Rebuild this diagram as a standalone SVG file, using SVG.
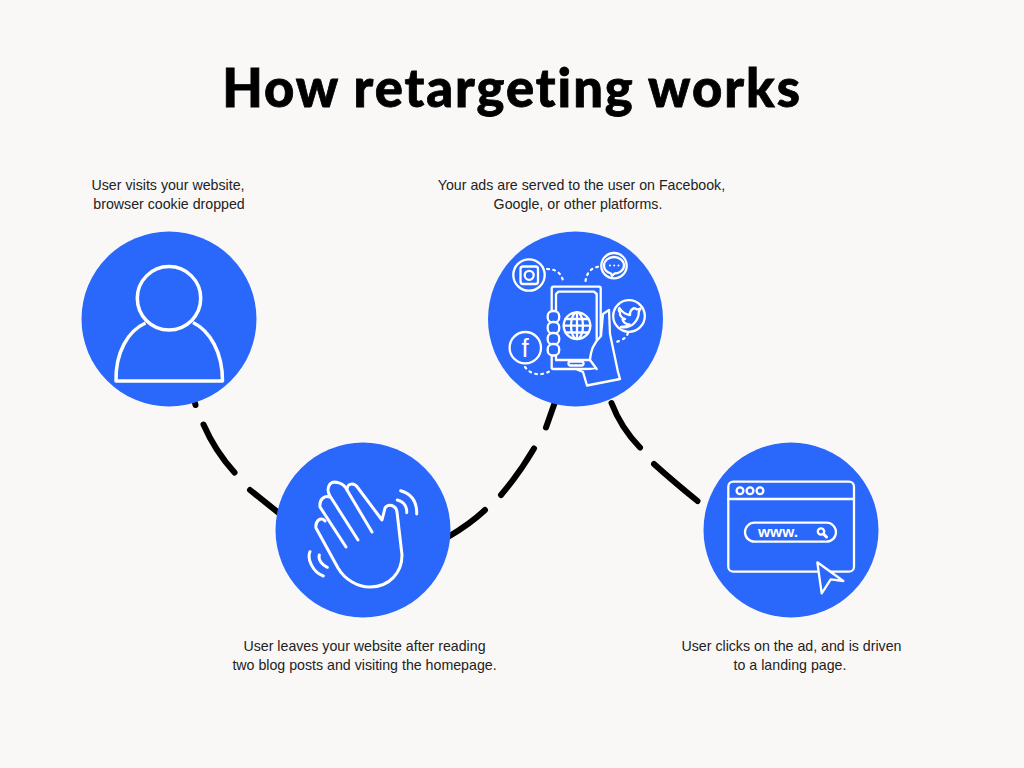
<svg xmlns="http://www.w3.org/2000/svg" width="1024" height="768" viewBox="0 0 1024 768">
<style>
.bg{fill:#faf8f7}
.disc{fill:#2a68fb}
.i{fill:none;stroke:#fff;stroke-width:3;stroke-linecap:round;stroke-linejoin:round}
.t{fill:none;stroke:#fff;stroke-width:2.300;stroke-linecap:round;stroke-linejoin:round}
.d{fill:none;stroke:#fff;stroke-width:2.200;stroke-linecap:round;stroke-dasharray:1.800 4.400}
.c{fill:none;stroke:#000;stroke-width:6;stroke-linecap:round}
.cap{font-family:"Liberation Sans",Arial,sans-serif;font-size:14.200px;fill:#222;text-anchor:middle}
.title{font-family:Lato,"Liberation Sans",sans-serif;font-weight:900;font-size:52.500px;letter-spacing:1.950px;font-variant-ligatures:none;fill:#000;stroke:#000;stroke-width:.8px;text-anchor:middle}
</style>
<rect class="bg" width="1024" height="768"/>
<text class="title" x="512" y="106.500">How retargeting works</text>
<g id="connectors">
<path class="c" d="M195 403L195.500 405"/>
<path class="c" d="M203.500 424.500Q215 451 234.500 472.500"/>
<path class="c" d="M250 490L280 514"/>
<path class="c" d="M555 402L546 427.500"/>
<path class="c" d="M534 448.500Q519 474 501 495"/>
<path class="c" d="M485 510Q470 524 448 537"/>
<path class="c" d="M611.500 403Q621 428 640 447.500"/>
<path class="c" d="M654 464Q674 482 697.500 501"/>
</g>
<g id="node-visit">
<circle class="disc" cx="169" cy="319" r="87.500"/>
<circle cx="169" cy="298.300" r="31.700" fill="none" stroke="#fff" stroke-width="3.500"/>
<path d="M145.500 323C128 331 115.500 352 116 381H222.500C222.500 352 210 331 193 322.500" fill="none" stroke="#fff" stroke-width="3.500" stroke-linejoin="round"/>
<text class="cap" x="168" y="189.500">User visits your website,</text>
<text class="cap" x="169" y="208.500">browser cookie dropped</text>
</g>
<g id="node-leave">
<circle class="disc" cx="363" cy="530" r="87.500"/>
<path class="i" d="M325 521C321 516 315 521 316 528L338 568C345 580 358 587 370 587C390 587 402 572 402 555L397 512C396 505 388 503 385 508L382 520L358 488C354 482 347 483 347 490L372 532"/>
<path class="i" d="M347 490C344 483 334 480 330 484C327 488 328 493 330 496L358 540"/>
<path class="i" d="M330 497C325 495 319 499 320 507L346 547"/>
<path class="i" d="M400.700 490.700C412 494 417 502 416.700 514M397.300 500C405 502 407 508 406.700 512.700M323.300 576C312 572 307 558 310 551.700M327.300 567.300C322 565 318 560 319.300 555"/>
<text class="cap" x="364.500" y="651">User leaves your website after reading</text>
<text class="cap" x="364.500" y="670">two blog posts and visiting the homepage.</text>
</g>
<g id="node-ads">
<circle class="disc" cx="575.500" cy="319" r="87.500"/>
<circle class="t" cx="529" cy="275" r="15.700"/>
<rect class="t" x="520.500" y="266.500" width="17.500" height="17.500" rx="2.500"/>
<circle class="t" cx="529.200" cy="275.300" r="4.500"/>
<circle class="t" cx="614" cy="265.700" r="12.700"/>
<path class="t" d="M611 273.500C606 272 604 268.500 604 265.500C604 260.500 609 257 614 257C619 257 624 260.500 624 265.500C624 270.500 619 273.500 614.500 273.500L612 276Z"/>
<path d="M610 265.500H618.500" fill="none" stroke="#fff" stroke-width="2" stroke-linecap="round" stroke-dasharray=".01 4.200"/>
<circle class="t" cx="629" cy="316" r="15.800"/>
<path class="t" d="M619.500 308C622 312 626 314.500 630 315C629.500 310 634 306.500 637 309.500L640.500 308.500L638.800 311.800C639 320 632 329 621 327C625 327 628 325.500 629.500 324.500C625.500 324 623 321.500 622.500 319.500L625 319C621.500 318 619.500 315 620 312.500C619 311.500 618.500 309.500 619.500 308Z"/>
<circle class="t" cx="525.300" cy="347.700" r="15.700"/>
<text x="525" y="357" font-family="Liberation Sans,sans-serif" font-size="26" fill="#fff" text-anchor="middle">f</text>
<path class="d" d="M547 269C557 269 562 274 563.500 283"/>
<path class="d" d="M585.500 281C587 271 593 267 600 266.500"/>
<path class="d" d="M628 333C626 339 620 341 616 342"/>
<path class="d" d="M525 367C532 376 542 376 552 370"/>
<rect class="t" x="551.700" y="286.700" width="49" height="82.300" rx="1.500"/>
<path class="t" d="M556 360V294L558.500 291.700H594L596.700 294V340"/>
<path class="t" d="M556 360H590"/>
<circle class="t" cx="577" cy="325.700" r="13.300"/>
<ellipse class="t" cx="577" cy="325.700" rx="6" ry="13.300"/>
<path class="t" d="M577 312.400V339M563.700 325.700H590.300M565.500 319H588.500M565.500 332.500H588.500"/>
<rect class="t" x="568.500" y="361.500" width="15" height="4" rx="2"/>
<g fill="#2a68fb" stroke="#fff" stroke-width="2.300">
<rect x="547.700" y="311" width="11.500" height="11.500" rx="5"/>
<rect x="547.700" y="322" width="11.500" height="11.500" rx="5"/>
<rect x="547.700" y="333" width="11.500" height="11.500" rx="5"/>
<rect x="547.700" y="344" width="11.500" height="11.500" rx="5"/>
</g>
<path d="M590 360C591 350 593 344 601 336L603 314L609 310L610 334L618 372L620 379L587 385.500L583 371L596.700 369Z" fill="#2a68fb"/>
<path class="t" d="M590 360C591 350 593 344 601 336L603 314L609 310L610 334L618 372L620 379L587 385.500L583 372L577 369.500M590 360L596.700 369"/>
<text class="cap" x="581.500" y="189.500">Your ads are served to the user on Facebook,</text>
<text class="cap" x="578" y="208.500">Google, or other platforms.</text>
</g>
<g id="node-click">
<circle class="disc" cx="791" cy="530" r="87.500"/>
<rect class="t" x="728.300" y="481.700" width="125.700" height="90" rx="5"/>
<path class="t" d="M728.300 499H854"/>
<circle class="t" cx="740" cy="490.700" r="3.400"/>
<circle class="t" cx="750" cy="490.700" r="3.400"/>
<circle class="t" cx="760" cy="490.700" r="3.400"/>
<rect class="t" x="745" y="522.700" width="91" height="19" rx="9.500"/>
<text x="778" y="537" font-family="Liberation Sans,sans-serif" font-size="15.500" font-weight="700" fill="#fff" text-anchor="middle">www.</text>
<circle class="t" cx="821" cy="531.500" r="3.200"/>
<path class="i" d="M823.500 534L826.500 537"/>
<path d="M817.300 562.300L843.300 581L830.700 579.300L821.700 593.300Z" fill="#2a68fb" stroke="#fff" stroke-width="2.300" stroke-linejoin="round"/>
<text class="cap" x="791.500" y="651">User clicks on the ad, and is driven</text>
<text class="cap" x="790" y="670">to a landing page.</text>
</g>
</svg>
